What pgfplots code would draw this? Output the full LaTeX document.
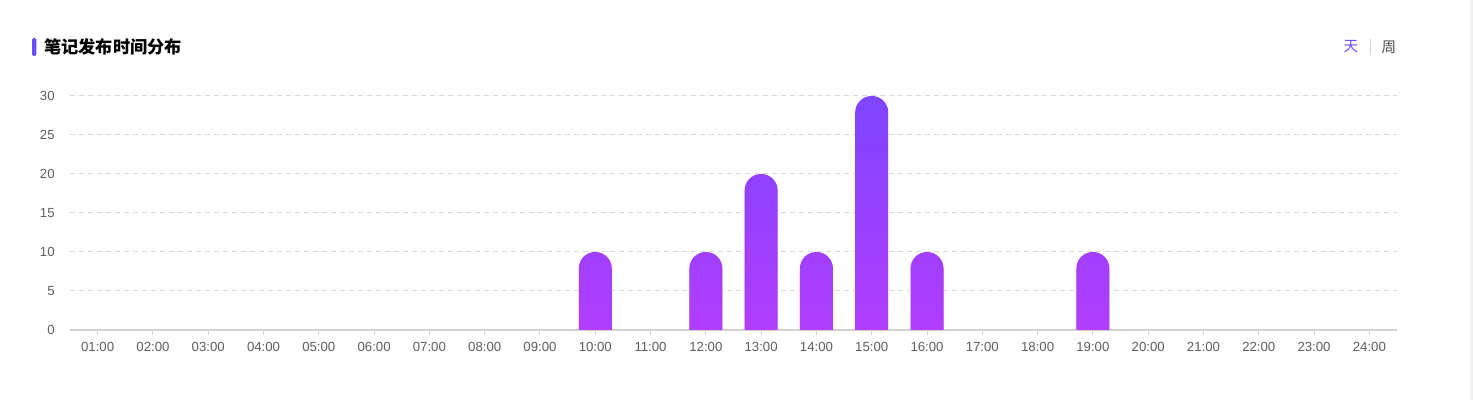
\documentclass[border=0pt]{standalone}
\usepackage{pgfplots}
\pgfplotsset{compat=1.18}
\usepackage{fontspec}
\setmainfont{Liberation Sans}
\newfontfamily\cjk{Noto Sans CJK SC}
\definecolor{barTop}{HTML}{7E45FF}
\definecolor{barBot}{HTML}{B63CFF}
\definecolor{accentc}{HTML}{6A4CFF}
\definecolor{gridc}{HTML}{DADADA}
\definecolor{axisc}{HTML}{D2D2D2}
\definecolor{tickc}{HTML}{5E5E5E}
\begin{document}
\begin{tikzpicture}[x=1pt,y=1pt]
\useasboundingbox[fill=white] (0,0) rectangle (736.5,200);
\fill[gray!12] (735,0) rectangle (736.5,200);
\fill[accentc,rounded corners=0.8pt] (16,172) rectangle (18.2,181);
\node[anchor=west,inner sep=0pt] at (22,176.5) {\cjk\fontsize{8.6pt}{10pt}\selectfont\bfseries 笔记发布时间分布};
\node[inner sep=0pt,text=accentc] at (675.5,176.5) {\cjk\fontsize{7.3pt}{8pt}\selectfont 天};
\draw[gray!35,line width=0.5pt] (685,172.5) -- (685,180.5);
\node[inner sep=0pt,text=black!70] at (694.5,176.5) {\cjk\fontsize{7.3pt}{8pt}\selectfont 周};
\begin{axis}[
  at={(35pt,35pt)}, anchor=south west,
  scale only axis, width=663.5pt, height=117pt,
  ybar stacked, stack negative=on previous, bar width=16.5pt,
  xmin=0.5, xmax=24.5, ymin=0, ymax=30,
  xtick={1,...,24},
  xticklabels={01:00,02:00,03:00,04:00,05:00,06:00,07:00,08:00,09:00,10:00,11:00,12:00,13:00,14:00,15:00,16:00,17:00,18:00,19:00,20:00,21:00,22:00,23:00,24:00},
  ytick={0,5,10,15,20,25,30},
  axis x line*=bottom, axis y line*=left,
  x axis line style={draw=axisc, line width=0.6pt},
  y axis line style={draw=none},
  ymajorgrids, grid style={draw=gridc, dash pattern=on 2.5pt off 2pt, line width=0.5pt},
  tick align=outside, major tick length=2.5pt,
  xtick style={draw=axisc, line width=0.5pt},
  ytick style={draw=none},
  /pgf/number format/assume math mode=true,
  ticklabel style={font=\fontsize{6.6pt}{7.5pt}\selectfont, text=tickc},
  xticklabel style={anchor=north, inner sep=0pt, yshift=-3.5pt},
  yticklabel style={anchor=east, inner sep=0pt, xshift=-5pt},
  clip=true,
]
\addplot+[draw=none, fill=none, mark=none] coordinates {(10,-2.6) (12,-2.6) (13,-2.6) (14,-2.6) (15,-2.6) (16,-2.6) (19,-2.6)};
\addplot+[draw=none, mark=none, rounded corners=8.25pt, top color=barTop, bottom color=barBot] coordinates {(10,12.6) (12,12.6) (13,22.6) (14,12.6) (15,32.6) (16,12.6) (19,12.6)};
\end{axis}
\end{tikzpicture}
\end{document}
